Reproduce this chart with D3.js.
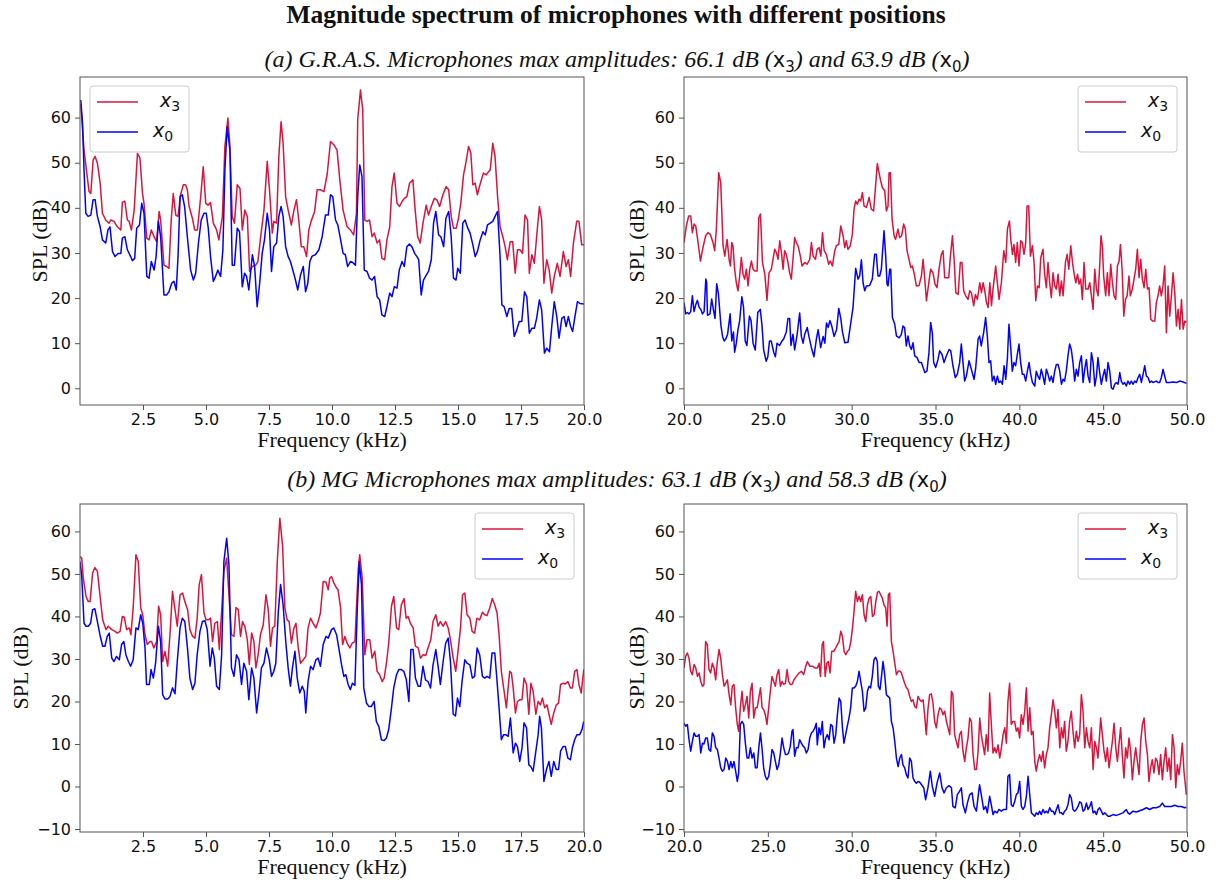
<!DOCTYPE html>
<html>
<head>
<meta charset="utf-8">
<script src="https://cdn.jsdelivr.net/npm/d3@7"></script>
<style>
  body { margin: 0; background: #fff; }
  svg text { fill: #111; }
</style>
</head>
<body>
<svg id="chart" width="1219" height="885"></svg>
<script>
// ---- data: [kHz, dB] ----
const grasLowX3 = [[0.03,63.0],[0.16,52.8],[0.27,47.7],[0.36,43.6],[0.43,43.2],[0.52,50.6],[0.60,51.4],[0.69,49.9],[0.80,45.5],[0.89,38.8],[1.02,37.3],[1.15,36.6],[1.22,37.3],[1.35,37.0],[1.48,35.8],[1.62,35.1],[1.68,41.2],[1.78,41.5],[1.88,37.3],[1.95,37.0],[2.04,35.1],[2.15,39.5],[2.28,52.1],[2.38,51.0],[2.48,43.2],[2.54,41.0],[2.65,33.3],[2.74,32.9],[2.83,35.1],[2.94,33.6],[3.04,32.5],[3.14,39.2],[3.20,37.3],[3.33,27.3],[3.44,27.0],[3.53,26.6],[3.62,37.3],[3.70,43.2],[3.80,38.4],[3.89,38.1],[3.99,42.9],[4.10,45.1],[4.19,45.1],[4.26,44.0],[4.33,40.3],[4.46,37.7],[4.55,35.1],[4.66,35.1],[4.79,42.5],[4.89,49.1],[4.99,41.0],[5.08,40.6],[5.18,41.2],[5.29,36.6],[5.42,35.1],[5.51,32.9],[5.65,38.1],[5.75,53.6],[5.87,59.9],[5.95,53.6],[6.04,38.1],[6.13,36.6],[6.24,45.1],[6.35,44.3],[6.44,35.1],[6.54,39.5],[6.64,38.1],[6.73,25.9],[6.84,27.0],[6.97,27.3],[7.06,28.1],[7.17,33.6],[7.30,39.5],[7.43,50.3],[7.52,44.0],[7.63,34.4],[7.69,37.0],[7.80,36.6],[7.89,51.4],[7.98,59.1],[8.06,54.3],[8.16,42.5],[8.26,39.5],[8.39,36.2],[8.49,39.5],[8.59,41.8],[8.68,37.3],[8.78,31.4],[8.88,31.4],[8.99,29.2],[9.08,35.1],[9.17,37.0],[9.31,39.2],[9.41,44.0],[9.54,44.0],[9.68,43.6],[9.81,47.5],[9.94,54.7],[10.07,54.0],[10.20,52.8],[10.31,46.2],[10.44,39.5],[10.60,35.8],[10.73,35.1],[10.86,34.0],[10.97,38.8],[11.02,59.5],[11.13,66.1],[11.22,61.7],[11.30,37.3],[11.39,37.0],[11.49,37.3],[11.59,33.6],[11.68,34.4],[11.79,32.2],[11.89,32.9],[11.98,28.8],[12.09,28.5],[12.18,32.9],[12.29,35.8],[12.38,44.7],[12.47,47.7],[12.58,41.0],[12.68,40.3],[12.78,41.4],[12.87,42.1],[12.97,42.5],[13.08,45.5],[13.21,46.2],[13.30,39.5],[13.40,33.6],[13.50,32.2],[13.61,36.6],[13.74,40.6],[13.83,38.4],[13.94,40.3],[14.06,42.1],[14.16,41.8],[14.27,40.3],[14.40,42.9],[14.53,44.7],[14.63,44.0],[14.73,38.1],[14.82,35.5],[14.93,35.5],[15.02,37.7],[15.11,41.0],[15.22,47.3],[15.31,49.9],[15.42,53.6],[15.51,52.1],[15.59,45.1],[15.68,45.5],[15.77,42.9],[15.85,44.7],[15.95,46.6],[16.01,47.7],[16.12,47.3],[16.21,48.0],[16.28,48.4],[16.38,54.3],[16.47,51.4],[16.57,42.5],[16.67,35.8],[16.78,33.6],[16.87,31.4],[16.96,28.5],[17.07,32.5],[17.17,32.5],[17.27,25.5],[17.36,30.7],[17.46,30.7],[17.56,29.9],[17.66,38.4],[17.76,37.3],[17.83,25.5],[17.93,29.6],[18.03,27.7],[18.12,33.6],[18.23,40.3],[18.32,37.3],[18.41,23.3],[18.52,28.5],[18.62,26.2],[18.72,21.1],[18.82,24.8],[18.94,27.7],[19.05,24.8],[19.18,30.3],[19.29,27.0],[19.38,28.5],[19.47,24.8],[19.58,32.2],[19.71,37.0],[19.80,37.0],[19.91,31.8],[20.0,31.8]];

const grasLowX0 = [[0.03,63.9],[0.10,58.8],[0.16,48.4],[0.23,38.8],[0.32,38.1],[0.43,38.4],[0.52,41.8],[0.60,41.8],[0.69,38.1],[0.80,35.8],[0.89,32.9],[1.02,32.2],[1.11,35.1],[1.19,35.8],[1.29,30.3],[1.39,29.2],[1.51,29.9],[1.62,29.9],[1.68,33.3],[1.78,33.6],[1.88,30.7],[2.01,29.2],[2.08,28.3],[2.17,28.8],[2.25,35.5],[2.36,36.2],[2.45,41.0],[2.54,38.8],[2.65,24.8],[2.74,24.4],[2.83,28.1],[2.94,26.2],[3.02,29.2],[3.11,37.0],[3.20,33.6],[3.33,20.7],[3.44,20.7],[3.53,21.4],[3.64,23.3],[3.73,23.7],[3.82,21.8],[3.89,29.2],[3.97,42.5],[4.06,42.9],[4.15,40.3],[4.26,33.6],[4.39,26.2],[4.50,24.0],[4.59,25.5],[4.70,32.2],[4.81,37.3],[4.92,38.8],[5.01,38.8],[5.09,35.5],[5.18,29.2],[5.29,23.7],[5.38,24.8],[5.47,26.2],[5.58,24.8],[5.67,30.7],[5.75,48.4],[5.84,58.0],[5.95,52.8],[6.04,27.3],[6.13,27.3],[6.24,35.5],[6.33,34.7],[6.44,22.5],[6.53,25.5],[6.61,24.8],[6.70,21.8],[6.84,29.6],[6.93,27.0],[7.03,18.1],[7.13,23.3],[7.23,29.9],[7.32,32.9],[7.43,38.8],[7.52,35.1],[7.60,25.9],[7.69,31.4],[7.80,32.2],[7.89,38.1],[7.98,40.3],[8.06,38.1],[8.16,31.4],[8.26,29.2],[8.35,28.1],[8.46,25.9],[8.55,24.0],[8.64,21.8],[8.75,25.1],[8.86,27.0],[8.95,21.4],[9.04,23.3],[9.12,28.1],[9.21,29.3],[9.34,29.6],[9.48,30.7],[9.61,33.6],[9.74,38.4],[9.85,38.4],[9.94,42.9],[10.03,42.5],[10.14,37.3],[10.23,36.2],[10.33,33.3],[10.44,29.9],[10.53,29.6],[10.62,27.0],[10.73,28.1],[10.82,27.9],[10.93,27.3],[11.02,42.5],[11.10,49.5],[11.19,46.9],[11.28,26.2],[11.39,25.9],[11.49,24.4],[11.59,24.0],[11.69,24.8],[11.79,20.3],[11.89,19.6],[11.98,16.3],[12.09,15.9],[12.18,18.1],[12.29,21.1],[12.38,20.3],[12.47,22.5],[12.58,22.2],[12.67,26.2],[12.78,28.1],[12.87,27.0],[12.97,31.4],[13.07,32.0],[13.17,31.4],[13.28,29.9],[13.37,29.2],[13.44,28.5],[13.54,20.7],[13.63,24.0],[13.74,25.1],[13.83,25.9],[13.94,28.5],[14.03,36.6],[14.12,39.2],[14.23,34.0],[14.32,33.6],[14.43,31.4],[14.52,37.7],[14.63,39.2],[14.73,33.6],[14.82,24.4],[14.92,24.0],[14.99,26.6],[15.09,25.5],[15.19,36.6],[15.28,37.3],[15.39,35.5],[15.48,34.4],[15.59,31.8],[15.68,29.2],[15.77,30.3],[15.88,32.9],[15.99,34.7],[16.08,34.0],[16.17,36.2],[16.28,36.6],[16.38,37.0],[16.47,38.1],[16.57,39.2],[16.67,29.2],[16.74,18.5],[16.83,18.1],[16.94,15.9],[17.03,17.7],[17.13,17.7],[17.23,11.5],[17.33,12.9],[17.43,14.8],[17.53,14.8],[17.64,21.4],[17.73,20.3],[17.83,12.2],[17.93,13.3],[18.03,13.3],[18.12,15.5],[18.23,19.6],[18.32,17.4],[18.43,7.8],[18.52,8.9],[18.63,8.1],[18.72,13.7],[18.82,19.2],[18.92,15.9],[19.01,11.1],[19.12,15.5],[19.21,15.9],[19.29,13.7],[19.38,15.9],[19.47,13.7],[19.55,12.6],[19.64,15.9],[19.74,19.2],[19.84,18.8],[20.0,18.7]];

const grasHighX3 = [[20.0,32.3],[20.14,36.0],[20.28,38.2],[20.40,38.2],[20.50,34.5],[20.60,36.4],[20.70,36.0],[20.84,32.3],[20.98,28.2],[21.13,31.2],[21.29,33.8],[21.43,34.5],[21.57,34.1],[21.73,32.3],[21.83,30.5],[21.93,35.3],[22.07,47.8],[22.19,45.6],[22.33,31.6],[22.43,29.3],[22.57,33.0],[22.69,28.6],[22.77,27.1],[22.85,32.3],[22.92,31.6],[23.02,26.4],[23.12,23.4],[23.22,21.6],[23.32,24.9],[23.42,29.0],[23.52,25.3],[23.62,24.2],[23.72,26.4],[23.82,22.7],[23.92,26.4],[24.02,28.2],[24.12,26.4],[24.22,26.0],[24.36,26.0],[24.46,37.8],[24.56,38.6],[24.68,27.9],[24.82,25.3],[24.95,19.5],[25.07,25.6],[25.21,26.4],[25.31,28.6],[25.41,30.8],[25.51,30.1],[25.61,28.6],[25.71,32.7],[25.81,30.1],[25.91,26.4],[26.00,30.5],[26.10,29.7],[26.20,27.9],[26.30,25.6],[26.40,24.2],[26.50,28.6],[26.60,33.4],[26.70,32.3],[26.80,31.6],[26.94,29.3],[27.04,27.1],[27.20,27.9],[27.34,27.5],[27.50,28.6],[27.60,32.3],[27.70,29.3],[27.84,28.6],[27.94,30.8],[28.06,31.2],[28.16,29.3],[28.26,34.5],[28.36,30.5],[28.49,29.7],[28.63,27.5],[28.73,28.2],[28.85,27.1],[28.99,30.5],[29.09,31.6],[29.23,31.9],[29.35,36.0],[29.49,33.8],[29.59,31.2],[29.68,32.7],[29.78,30.8],[29.92,31.6],[30.04,34.1],[30.14,39.7],[30.24,41.5],[30.34,40.8],[30.44,41.9],[30.54,41.5],[30.64,43.4],[30.74,40.4],[30.88,40.1],[31.04,42.3],[31.17,39.7],[31.31,39.3],[31.41,44.1],[31.53,49.8],[31.63,47.8],[31.73,46.0],[31.83,44.5],[31.97,43.8],[32.07,39.3],[32.17,40.4],[32.23,47.8],[32.31,47.8],[32.41,37.5],[32.53,33.8],[32.62,33.0],[32.76,35.3],[32.86,33.4],[32.98,33.8],[33.10,36.4],[33.20,35.3],[33.30,30.5],[33.42,28.6],[33.52,26.8],[33.62,27.1],[33.72,25.6],[33.86,22.7],[34.02,22.8],[34.16,24.9],[34.26,28.6],[34.36,24.2],[34.46,19.4],[34.60,23.4],[34.71,26.4],[34.85,25.6],[34.97,23.1],[35.09,22.3],[35.21,26.4],[35.35,29.7],[35.45,30.5],[35.55,24.5],[35.65,24.5],[35.79,24.5],[35.89,29.3],[36.01,33.8],[36.11,28.6],[36.21,21.2],[36.35,20.8],[36.48,27.9],[36.58,27.9],[36.68,21.6],[36.80,20.5],[36.94,19.7],[37.04,21.6],[37.14,21.2],[37.28,18.3],[37.38,20.8],[37.50,19.7],[37.64,23.4],[37.74,21.2],[37.84,23.4],[37.94,21.6],[38.04,19.0],[38.14,17.9],[38.24,23.4],[38.34,18.3],[38.43,22.0],[38.59,27.1],[38.69,23.4],[38.79,19.7],[38.93,23.4],[39.07,30.5],[39.19,27.9],[39.29,35.3],[39.41,37.1],[39.49,33.0],[39.59,29.7],[39.68,31.9],[39.78,27.9],[39.88,32.3],[39.98,27.1],[40.08,32.7],[40.18,32.3],[40.28,29.7],[40.38,32.3],[40.46,40.4],[40.56,40.4],[40.66,29.3],[40.78,31.6],[40.88,27.9],[40.98,19.4],[41.08,22.7],[41.18,22.3],[41.28,29.0],[41.41,30.8],[41.51,25.3],[41.61,22.3],[41.71,27.9],[41.81,23.4],[41.91,20.1],[42.01,25.6],[42.11,22.7],[42.21,22.0],[42.31,25.3],[42.41,20.5],[42.51,23.8],[42.61,20.5],[42.75,27.9],[42.85,29.7],[42.95,26.4],[43.07,31.6],[43.17,27.9],[43.27,25.3],[43.37,23.4],[43.47,25.3],[43.56,23.1],[43.66,24.2],[43.76,19.7],[43.86,27.9],[43.96,22.0],[44.10,22.0],[44.20,23.4],[44.30,20.5],[44.40,17.5],[44.50,26.4],[44.60,22.0],[44.70,20.5],[44.80,27.9],[44.87,33.8],[44.95,31.6],[45.03,24.9],[45.15,20.5],[45.25,25.6],[45.35,20.5],[45.45,27.5],[45.55,23.4],[45.65,20.5],[45.75,19.7],[45.85,27.1],[45.95,28.2],[46.03,31.9],[46.13,26.4],[46.23,16.0],[46.33,19.7],[46.43,20.5],[46.54,24.9],[46.62,20.5],[46.74,22.0],[46.84,24.2],[46.94,26.4],[47.04,30.8],[47.14,24.5],[47.24,28.6],[47.34,24.2],[47.44,22.3],[47.54,26.4],[47.64,22.0],[47.74,22.3],[47.84,15.3],[47.94,14.9],[48.08,14.9],[48.17,19.0],[48.27,20.5],[48.37,22.7],[48.47,20.5],[48.57,22.7],[48.67,27.1],[48.77,12.3],[48.87,22.7],[48.97,16.0],[49.07,20.5],[49.17,25.6],[49.27,21.2],[49.37,13.8],[49.47,17.5],[49.57,13.1],[49.67,19.7],[49.77,13.1],[49.87,14.9],[49.97,14.6]];

const grasHighX0 = [[20.0,19.0],[20.1,16.5],[20.2,16.8],[20.3,16.5],[20.4,17.0],[20.5,20.5],[20.6,17.0],[20.7,18.5],[20.8,19.5],[20.9,18.0],[21.0,17.5],[21.1,16.5],[21.2,17.0],[21.3,24.2],[21.35,23.5],[21.4,16.2],[21.55,16.5],[21.65,19.8],[21.75,17.5],[21.85,15.5],[21.95,23.2],[22.05,21.0],[22.2,14.0],[22.3,11.5],[22.4,10.5],[22.5,11.0],[22.6,12.0],[22.75,16.5],[22.85,10.5],[22.95,12.5],[23.02,8.0],[23.12,10.0],[23.22,13.0],[23.32,15.0],[23.45,20.3],[23.55,18.0],[23.65,10.5],[23.75,9.5],[23.9,16.0],[24.0,15.0],[24.12,10.0],[24.25,8.5],[24.4,16.8],[24.55,17.5],[24.65,14.0],[24.75,8.5],[24.9,6.0],[25.0,7.0],[25.1,10.5],[25.2,10.5],[25.35,8.0],[25.45,7.0],[25.55,10.0],[25.7,9.5],[25.85,10.5],[25.95,11.0],[26.1,12.5],[26.2,15.5],[26.3,15.5],[26.38,9.5],[26.5,12.0],[26.6,8.5],[26.75,12.0],[26.9,16.7],[27.0,11.5],[27.1,10.0],[27.2,12.0],[27.35,13.5],[27.45,11.5],[27.6,9.0],[27.75,7.0],[27.9,11.0],[28.0,13.0],[28.15,9.0],[28.3,11.5],[28.4,10.0],[28.5,14.5],[28.6,13.5],[28.7,15.0],[28.8,14.0],[28.95,11.5],[29.1,13.0],[29.23,17.7],[29.35,15.5],[29.45,12.5],[29.59,10.1],[29.78,10.2],[29.92,13.8],[30.08,17.9],[30.24,26.6],[30.38,24.2],[30.48,24.9],[30.58,28.5],[30.68,23.4],[30.78,21.6],[30.88,22.7],[31.07,22.8],[31.23,24.2],[31.37,29.7],[31.47,29.7],[31.57,24.9],[31.67,24.9],[31.77,26.4],[31.93,34.9],[32.03,29.3],[32.11,23.1],[32.17,22.7],[32.27,26.4],[32.33,26.4],[32.43,15.7],[32.57,14.2],[32.67,11.6],[32.83,11.2],[32.96,11.9],[33.06,13.8],[33.16,13.4],[33.26,9.4],[33.36,11.6],[33.46,9.4],[33.56,8.6],[33.66,10.1],[33.76,7.2],[33.90,6.8],[34.02,5.7],[34.16,5.7],[34.36,3.5],[34.49,3.8],[34.61,7.9],[34.71,14.6],[34.81,12.3],[34.89,5.7],[35.01,4.6],[35.15,6.4],[35.25,8.3],[35.39,7.5],[35.51,5.7],[35.65,7.2],[35.81,8.6],[35.91,8.3],[36.04,5.0],[36.18,2.4],[36.30,3.1],[36.44,5.7],[36.54,9.8],[36.64,5.7],[36.74,1.6],[36.84,2.7],[37.00,6.1],[37.14,4.2],[37.30,2.0],[37.40,4.6],[37.54,10.9],[37.63,11.6],[37.73,9.4],[37.87,12.3],[37.99,15.7],[38.09,11.6],[38.19,5.7],[38.29,6.1],[38.39,1.6],[38.49,2.7],[38.59,0.9],[38.69,2.7],[38.79,1.3],[38.89,1.6],[38.99,0.9],[39.09,5.0],[39.19,2.0],[39.29,6.8],[39.38,14.2],[39.48,9.4],[39.58,3.8],[39.68,5.7],[39.78,5.0],[39.88,7.5],[39.98,9.8],[40.08,5.7],[40.18,3.1],[40.28,3.1],[40.38,1.6],[40.48,3.8],[40.58,5.7],[40.68,3.1],[40.78,1.3],[40.92,0.5],[41.01,3.8],[41.11,2.7],[41.21,2.0],[41.31,4.2],[41.41,2.7],[41.51,0.9],[41.61,4.2],[41.71,3.1],[41.81,1.6],[41.91,2.7],[42.01,1.3],[42.11,3.8],[42.21,5.3],[42.31,5.3],[42.41,3.8],[42.51,0.9],[42.61,2.0],[42.70,1.6],[42.80,3.8],[42.90,7.2],[43.00,9.8],[43.10,8.6],[43.20,5.7],[43.30,1.6],[43.40,4.2],[43.50,2.7],[43.60,5.7],[43.70,7.2],[43.80,1.3],[43.90,4.2],[44.00,6.4],[44.10,2.7],[44.20,1.3],[44.30,7.9],[44.40,5.7],[44.50,0.5],[44.60,2.7],[44.69,6.8],[44.79,3.5],[44.89,0.9],[44.99,2.7],[45.09,4.2],[45.19,1.6],[45.29,5.7],[45.39,3.8],[45.49,0.1],[45.59,-0.2],[45.69,0.9],[45.79,1.3],[45.89,0.9],[45.99,3.5],[46.08,1.6],[46.18,0.9],[46.28,1.3],[46.38,0.5],[46.48,1.6],[46.58,0.9],[46.68,1.6],[46.78,0.9],[46.88,1.6],[46.98,1.3],[47.08,2.4],[47.18,3.1],[47.28,1.3],[47.38,3.1],[47.48,5.0],[47.58,2.7],[47.68,2.4],[47.78,1.3],[47.87,1.6],[47.97,1.3],[48.17,1.6],[48.27,1.3],[48.37,1.3],[48.47,2.4],[48.57,4.2],[48.67,2.7],[48.77,1.3],[48.87,1.3],[48.97,1.3],[49.17,1.4],[49.37,1.3],[49.57,1.6],[49.77,1.4],[49.97,1.1]];

const mgLowX3 = [[0.00,54.1],[0.07,53.7],[0.13,49.0],[0.24,44.7],[0.33,43.5],[0.40,43.5],[0.50,50.2],[0.59,51.5],[0.69,50.6],[0.79,45.1],[0.90,39.2],[1.03,36.9],[1.12,37.7],[1.26,36.9],[1.39,36.5],[1.48,36.1],[1.59,36.5],[1.68,40.0],[1.76,39.8],[1.85,36.9],[1.96,37.3],[2.02,35.7],[2.11,42.0],[2.22,54.5],[2.31,53.0],[2.41,42.0],[2.49,40.4],[2.58,35.7],[2.67,33.4],[2.78,34.1],[2.84,34.1],[2.93,32.6],[3.04,34.1],[3.12,42.4],[3.20,40.4],[3.28,29.4],[3.37,31.8],[3.48,28.3],[3.57,35.7],[3.67,45.9],[3.77,41.6],[3.86,37.7],[3.97,45.1],[4.07,45.5],[4.16,43.5],[4.27,41.6],[4.36,36.9],[4.47,35.3],[4.56,34.9],[4.65,39.6],[4.73,47.5],[4.82,49.8],[4.92,40.8],[5.00,39.2],[5.09,39.2],[5.18,39.6],[5.26,34.1],[5.35,38.4],[5.45,38.8],[5.53,32.2],[5.62,41.2],[5.71,50.6],[5.82,53.7],[5.91,45.1],[6.01,35.7],[6.11,35.3],[6.19,42.1],[6.28,41.6],[6.37,35.3],[6.45,38.8],[6.54,37.7],[6.64,34.5],[6.72,28.7],[6.81,36.1],[6.90,34.1],[6.98,27.9],[7.07,31.0],[7.16,35.7],[7.27,38.0],[7.38,45.1],[7.47,41.6],[7.56,33.0],[7.64,37.3],[7.73,37.7],[7.83,53.0],[7.93,63.1],[8.04,56.5],[8.13,42.0],[8.22,39.2],[8.30,38.8],[8.39,33.7],[8.49,37.3],[8.57,38.4],[8.66,32.6],[8.75,29.0],[8.86,29.8],[8.96,30.6],[9.05,37.3],[9.15,39.6],[9.25,38.4],[9.36,37.3],[9.45,38.8],[9.54,40.8],[9.65,48.2],[9.76,48.1],[9.85,46.3],[9.91,49.0],[9.98,49.4],[10.07,47.9],[10.18,46.7],[10.24,46.3],[10.34,42.0],[10.42,33.4],[10.51,35.3],[10.60,33.7],[10.71,32.6],[10.80,33.7],[10.91,34.1],[10.97,42.0],[11.04,51.0],[11.10,54.5],[11.20,49.0],[11.30,31.0],[11.39,34.5],[11.50,34.5],[11.59,30.2],[11.70,31.8],[11.79,27.1],[11.89,26.3],[11.99,24.7],[12.07,25.5],[12.16,29.0],[12.25,33.7],[12.36,42.4],[12.45,44.7],[12.56,37.3],[12.65,36.9],[12.75,42.7],[12.86,44.2],[12.94,39.6],[13.02,40.0],[13.11,38.4],[13.22,37.3],[13.31,33.0],[13.42,32.6],[13.51,30.2],[13.62,31.0],[13.72,30.8],[13.81,32.6],[13.92,34.5],[14.01,38.8],[14.12,40.4],[14.21,37.7],[14.30,38.8],[14.41,37.7],[14.51,38.8],[14.61,37.3],[14.70,34.5],[14.81,30.2],[14.91,27.1],[15.00,31.8],[15.10,37.3],[15.18,45.1],[15.27,45.5],[15.36,40.4],[15.47,39.6],[15.56,36.5],[15.66,36.1],[15.75,39.6],[15.86,39.2],[15.97,41.0],[16.06,40.4],[16.15,40.2],[16.26,42.0],[16.36,44.2],[16.46,42.7],[16.55,40.8],[16.63,35.7],[16.72,27.1],[16.83,22.4],[16.92,18.5],[16.99,23.2],[17.05,27.1],[17.12,26.7],[17.19,23.2],[17.28,17.3],[17.36,20.0],[17.45,20.4],[17.54,20.4],[17.62,25.5],[17.72,24.0],[17.81,17.0],[17.89,24.3],[17.98,22.4],[18.09,17.0],[18.18,20.0],[18.27,19.2],[18.35,20.8],[18.44,18.5],[18.53,19.2],[18.61,17.0],[18.70,14.6],[18.80,17.3],[18.90,19.2],[18.99,19.6],[19.07,24.0],[19.17,24.3],[19.26,24.1],[19.36,24.7],[19.46,23.2],[19.54,23.2],[19.63,27.1],[19.72,27.5],[19.80,24.0],[19.89,22.0],[19.99,27.5]];

const mgLowX0 = [[0.00,52.9],[0.07,49.4],[0.16,38.4],[0.24,37.7],[0.33,37.7],[0.42,38.4],[0.50,41.6],[0.59,41.8],[0.69,38.8],[0.79,35.7],[0.90,33.0],[0.99,33.0],[1.08,35.3],[1.16,36.1],[1.26,30.2],[1.35,29.4],[1.45,30.6],[1.56,29.8],[1.65,33.4],[1.74,34.1],[1.82,31.0],[1.92,29.4],[2.01,28.3],[2.11,29.8],[2.22,37.3],[2.31,36.9],[2.41,40.4],[2.49,38.4],[2.58,32.6],[2.64,24.0],[2.75,24.0],[2.82,27.5],[2.91,25.5],[3.00,29.0],[3.11,37.7],[3.20,34.1],[3.28,21.6],[3.37,20.6],[3.48,20.6],[3.57,21.2],[3.67,23.2],[3.77,21.8],[3.86,29.4],[3.97,37.3],[4.06,39.6],[4.16,38.8],[4.27,32.2],[4.36,25.5],[4.47,22.8],[4.56,24.3],[4.65,31.0],[4.76,36.5],[4.86,38.8],[4.96,39.0],[5.05,36.9],[5.16,28.3],[5.25,32.6],[5.33,30.2],[5.42,23.6],[5.53,22.8],[5.62,31.0],[5.71,52.9],[5.82,58.4],[5.91,52.2],[6.01,27.9],[6.11,25.9],[6.21,31.0],[6.31,29.8],[6.41,24.0],[6.50,29.0],[6.61,27.1],[6.70,20.4],[6.81,27.9],[6.90,25.5],[7.01,17.3],[7.11,22.4],[7.20,27.9],[7.30,29.0],[7.40,32.6],[7.51,29.8],[7.60,25.9],[7.69,27.1],[7.77,29.0],[7.87,41.2],[7.96,47.5],[8.06,42.7],[8.17,33.7],[8.26,27.9],[8.35,23.6],[8.43,27.9],[8.53,31.8],[8.62,25.5],[8.72,22.0],[8.82,23.6],[8.90,22.4],[8.96,17.3],[9.05,24.7],[9.15,28.3],[9.25,27.5],[9.36,29.8],[9.45,30.2],[9.54,28.3],[9.65,33.4],[9.76,35.3],[9.85,34.9],[9.98,36.9],[10.07,37.3],[10.18,35.7],[10.27,32.6],[10.38,28.6],[10.47,25.9],[10.55,26.3],[10.64,24.0],[10.73,22.8],[10.81,24.3],[10.91,23.8],[11.00,41.2],[11.08,52.9],[11.17,47.5],[11.26,23.2],[11.37,19.6],[11.47,18.8],[11.56,18.8],[11.67,20.0],[11.76,15.3],[11.86,14.1],[11.96,11.0],[12.07,10.8],[12.16,11.4],[12.25,13.4],[12.36,18.5],[12.45,23.2],[12.56,26.3],[12.65,27.5],[12.75,27.5],[12.85,27.1],[12.95,25.1],[13.05,20.0],[13.13,32.2],[13.22,32.2],[13.31,25.5],[13.42,23.6],[13.51,23.6],[13.61,28.3],[13.71,25.1],[13.81,24.7],[13.91,23.2],[14.01,28.6],[14.12,32.2],[14.21,28.3],[14.30,24.0],[14.41,29.4],[14.51,33.7],[14.61,34.9],[14.70,29.4],[14.81,17.0],[14.90,16.6],[14.98,20.8],[15.07,18.8],[15.16,24.7],[15.27,29.8],[15.36,29.0],[15.47,28.6],[15.57,25.5],[15.66,25.9],[15.76,32.6],[15.86,31.0],[15.97,25.9],[16.06,25.5],[16.15,25.9],[16.26,25.5],[16.35,31.4],[16.46,31.4],[16.55,24.7],[16.63,18.5],[16.72,11.0],[16.81,12.2],[16.89,12.2],[16.99,11.8],[17.08,16.1],[17.19,7.9],[17.28,10.2],[17.36,9.4],[17.45,5.9],[17.54,9.1],[17.62,15.0],[17.72,13.8],[17.81,5.1],[17.89,4.7],[17.98,3.6],[18.09,8.3],[18.18,12.2],[18.24,16.5],[18.31,13.8],[18.41,1.2],[18.51,4.0],[18.61,5.9],[18.70,2.4],[18.80,5.9],[18.90,4.0],[18.99,4.0],[19.07,8.3],[19.17,9.4],[19.26,9.4],[19.36,6.7],[19.46,6.3],[19.54,9.1],[19.63,11.0],[19.72,12.2],[19.83,12.2],[19.92,13.4],[19.99,15.3]];

const mgHighX3 = [[20.00,27.9],[20.10,30.6],[20.20,31.4],[20.30,30.2],[20.40,27.1],[20.50,26.3],[20.60,28.7],[20.70,27.9],[20.80,25.9],[20.90,26.7],[21.00,24.7],[21.10,23.6],[21.19,24.0],[21.29,34.1],[21.39,33.4],[21.49,27.5],[21.59,26.7],[21.69,29.0],[21.79,27.9],[21.89,25.1],[21.99,29.4],[22.09,32.2],[22.19,30.2],[22.29,26.3],[22.39,23.6],[22.49,24.3],[22.59,25.1],[22.69,21.6],[22.79,19.2],[22.88,23.6],[22.98,24.0],[23.08,18.5],[23.18,14.6],[23.26,13.0],[23.36,18.5],[23.46,22.4],[23.56,17.7],[23.66,19.2],[23.76,21.2],[23.86,16.1],[23.96,22.4],[24.06,24.3],[24.16,16.1],[24.26,18.5],[24.36,18.5],[24.46,20.8],[24.56,23.2],[24.66,18.5],[24.75,18.1],[24.85,16.9],[24.95,14.6],[25.05,18.5],[25.15,22.4],[25.25,25.9],[25.35,24.7],[25.45,23.6],[25.55,26.3],[25.65,27.5],[25.75,23.6],[25.85,24.7],[25.95,24.0],[26.05,24.3],[26.15,27.5],[26.24,24.7],[26.34,24.0],[26.44,24.0],[26.56,25.1],[26.70,25.9],[26.86,26.7],[27.00,27.1],[27.14,26.3],[27.26,28.3],[27.36,29.4],[27.50,28.3],[27.66,28.3],[27.80,27.9],[27.96,27.9],[28.06,29.0],[28.14,25.9],[28.24,33.4],[28.32,34.1],[28.42,25.9],[28.52,29.0],[28.61,29.4],[28.71,26.7],[28.81,31.8],[28.93,31.8],[29.05,32.6],[29.15,33.4],[29.25,34.1],[29.35,36.5],[29.45,35.3],[29.55,31.8],[29.65,31.0],[29.75,31.8],[29.85,32.2],[29.95,34.1],[30.05,37.3],[30.15,41.6],[30.24,45.9],[30.34,43.5],[30.44,44.7],[30.54,43.5],[30.64,45.1],[30.74,40.4],[30.84,38.8],[30.94,42.7],[31.04,44.3],[31.14,44.7],[31.24,40.0],[31.34,40.4],[31.44,43.5],[31.54,45.7],[31.63,45.9],[31.73,45.1],[31.83,44.3],[31.93,42.7],[32.03,42.0],[32.11,37.7],[32.19,45.1],[32.27,45.5],[32.37,34.1],[32.47,31.8],[32.57,29.0],[32.67,26.3],[32.77,27.1],[32.87,27.2],[32.97,26.7],[33.06,25.5],[33.16,24.3],[33.26,23.3],[33.36,22.8],[33.46,21.2],[33.56,20.0],[33.66,20.4],[33.76,18.8],[33.86,18.5],[33.96,21.2],[34.06,20.4],[34.16,20.0],[34.26,20.4],[34.35,16.9],[34.45,12.2],[34.55,18.1],[34.65,21.6],[34.75,21.8],[34.85,19.6],[34.95,15.3],[35.05,13.8],[35.15,16.9],[35.25,18.5],[35.35,18.1],[35.45,16.9],[35.55,17.7],[35.65,15.3],[35.75,13.8],[35.85,12.2],[35.95,22.4],[36.04,21.6],[36.14,12.2],[36.24,10.6],[36.34,9.1],[36.44,12.2],[36.54,13.0],[36.64,8.3],[36.74,5.9],[36.84,9.1],[36.94,11.4],[37.04,16.1],[37.14,15.3],[37.24,7.5],[37.34,4.0],[37.44,4.0],[37.54,8.3],[37.64,16.1],[37.73,12.2],[37.83,9.8],[37.93,7.5],[38.03,12.2],[38.13,8.3],[38.23,22.0],[38.33,14.6],[38.43,7.9],[38.53,9.1],[38.63,7.9],[38.73,9.8],[38.83,6.7],[38.93,9.1],[39.03,12.2],[39.13,13.8],[39.23,10.2],[39.32,20.0],[39.42,24.3],[39.52,14.6],[39.62,15.3],[39.72,15.3],[39.82,13.0],[39.92,13.8],[40.02,11.4],[40.12,16.9],[40.22,14.6],[40.32,17.7],[40.42,23.2],[40.52,13.0],[40.62,18.5],[40.72,12.2],[40.82,13.0],[40.92,5.9],[41.01,3.6],[41.11,5.9],[41.21,7.5],[41.31,5.9],[41.41,8.3],[41.51,4.4],[41.61,7.5],[41.71,9.1],[41.81,13.8],[41.91,16.9],[42.01,20.4],[42.11,17.7],[42.21,13.8],[42.31,18.1],[42.41,9.1],[42.51,13.8],[42.61,11.4],[42.70,15.3],[42.80,8.3],[42.90,10.6],[43.00,15.3],[43.10,17.7],[43.20,13.0],[43.30,9.1],[43.40,13.0],[43.50,10.6],[43.60,12.2],[43.70,21.6],[43.80,17.7],[43.90,9.1],[44.00,13.8],[44.10,10.6],[44.20,9.1],[44.30,13.8],[44.40,4.0],[44.50,10.6],[44.60,9.1],[44.69,6.7],[44.79,12.2],[44.85,16.1],[44.95,12.2],[45.05,8.3],[45.15,5.9],[45.25,9.1],[45.35,4.4],[45.45,7.5],[45.55,10.6],[45.65,14.9],[45.75,9.1],[45.85,5.9],[45.95,10.2],[46.04,13.8],[46.14,7.5],[46.24,2.0],[46.34,9.1],[46.44,6.7],[46.54,11.4],[46.64,8.3],[46.74,1.6],[46.84,5.9],[46.94,9.1],[47.04,5.9],[47.14,2.8],[47.24,10.6],[47.34,14.6],[47.44,16.1],[47.54,10.6],[47.64,7.5],[47.73,1.2],[47.83,4.4],[47.93,6.3],[48.03,3.2],[48.13,6.7],[48.23,5.9],[48.33,2.8],[48.43,7.5],[48.53,1.6],[48.63,5.9],[48.73,9.1],[48.83,3.6],[48.93,6.7],[49.03,1.6],[49.13,12.2],[49.23,9.1],[49.33,-0.3],[49.42,5.1],[49.52,2.8],[49.62,5.9],[49.72,10.2],[49.82,3.6],[49.96,-1.9]];

const mgHighX0 = [[20.00,14.9],[20.10,14.2],[20.20,14.6],[20.30,11.0],[20.40,8.3],[20.50,10.6],[20.60,12.6],[20.70,11.8],[20.80,11.8],[20.90,12.2],[21.00,7.9],[21.10,10.2],[21.19,10.0],[21.29,11.4],[21.39,11.4],[21.49,8.7],[21.59,8.3],[21.69,12.6],[21.79,11.8],[21.89,9.1],[21.99,8.7],[22.09,6.7],[22.19,4.4],[22.29,3.6],[22.39,4.0],[22.49,6.7],[22.59,5.9],[22.69,4.0],[22.79,5.9],[22.88,4.4],[22.98,5.9],[23.08,3.6],[23.18,1.2],[23.26,3.2],[23.36,14.6],[23.46,15.3],[23.56,14.6],[23.66,10.2],[23.76,6.7],[23.86,6.7],[23.96,9.1],[24.06,6.7],[24.16,7.9],[24.26,4.4],[24.36,4.4],[24.46,9.1],[24.56,12.6],[24.66,8.7],[24.75,4.4],[24.85,2.4],[24.95,1.6],[25.05,2.4],[25.15,5.1],[25.25,8.7],[25.35,7.9],[25.45,5.9],[25.55,4.0],[25.65,5.1],[25.75,7.9],[25.85,11.4],[25.95,9.1],[26.05,7.5],[26.15,7.5],[26.24,7.9],[26.34,9.5],[26.44,13.0],[26.50,13.4],[26.60,7.1],[26.70,9.1],[26.80,9.1],[26.90,11.0],[27.00,10.2],[27.10,9.5],[27.20,9.1],[27.30,7.9],[27.40,8.7],[27.50,11.4],[27.60,12.6],[27.70,13.0],[27.80,13.8],[27.89,14.9],[27.95,9.8],[28.05,13.8],[28.15,12.2],[28.25,15.3],[28.35,9.1],[28.45,11.4],[28.55,12.2],[28.65,11.0],[28.75,14.6],[28.85,14.2],[28.95,10.2],[29.05,12.2],[29.15,16.9],[29.25,20.8],[29.35,20.0],[29.45,13.8],[29.54,10.2],[29.64,12.2],[29.74,14.2],[29.84,16.1],[29.94,18.5],[30.04,23.2],[30.14,23.2],[30.24,23.6],[30.34,24.7],[30.44,27.1],[30.54,24.7],[30.64,22.4],[30.74,17.7],[30.84,18.5],[30.94,22.4],[31.04,23.6],[31.13,23.2],[31.23,25.9],[31.33,29.8],[31.43,30.4],[31.53,29.4],[31.59,23.6],[31.69,22.8],[31.79,26.3],[31.87,29.4],[31.97,26.3],[32.07,21.6],[32.17,21.2],[32.27,20.8],[32.37,15.3],[32.47,13.8],[32.57,10.6],[32.67,6.7],[32.77,4.7],[32.87,6.7],[32.97,7.5],[33.06,5.1],[33.16,4.4],[33.26,2.8],[33.36,2.0],[33.46,6.7],[33.56,5.9],[33.66,2.0],[33.76,1.2],[33.86,0.8],[33.96,1.2],[34.06,1.0],[34.30,-0.3],[34.41,-3.1],[34.55,-0.3],[34.69,3.6],[34.81,0.0],[34.95,-2.3],[35.09,0.8],[35.25,3.2],[35.39,-0.3],[35.51,-1.5],[35.65,-0.3],[35.81,0.2],[35.95,-0.3],[36.04,-4.7],[36.18,-5.0],[36.30,-1.9],[36.44,-1.1],[36.54,-0.3],[36.64,-4.3],[36.78,-6.2],[36.90,-3.9],[37.04,-1.9],[37.18,-1.5],[37.30,-4.7],[37.44,-5.8],[37.58,-1.1],[37.63,0.4],[37.73,-1.9],[37.87,-5.4],[37.99,-4.7],[38.09,-6.2],[38.23,-2.3],[38.33,-4.3],[38.43,-6.6],[38.53,-5.8],[38.67,-6.2],[38.79,-5.4],[38.93,-5.8],[39.07,-5.4],[39.23,-5.4],[39.32,2.4],[39.42,2.8],[39.52,-4.3],[39.62,-4.7],[39.72,-3.6],[39.82,-1.9],[39.92,-1.5],[40.02,1.2],[40.12,-4.7],[40.22,-5.4],[40.32,-4.7],[40.42,-2.3],[40.52,2.4],[40.62,-1.9],[40.72,-6.2],[40.82,-6.6],[40.92,-7.0],[41.01,-6.2],[41.11,-6.6],[41.21,-5.8],[41.31,-6.6],[41.41,-5.4],[41.51,-6.2],[41.61,-5.8],[41.71,-6.2],[41.81,-5.0],[41.91,-5.8],[42.01,-5.8],[42.11,-6.6],[42.21,-5.4],[42.31,-4.3],[42.41,-6.2],[42.51,-6.2],[42.61,-6.6],[42.70,-5.8],[42.80,-5.4],[42.90,-4.3],[43.00,-1.9],[43.10,-2.7],[43.20,-5.4],[43.30,-5.8],[43.40,-5.4],[43.50,-4.7],[43.60,-3.6],[43.70,-3.9],[43.80,-5.8],[43.90,-5.4],[44.00,-3.9],[44.10,-5.4],[44.20,-4.7],[44.30,-3.6],[44.40,-6.2],[44.50,-5.8],[44.60,-6.6],[44.69,-5.4],[44.79,-5.0],[44.89,-5.8],[44.99,-6.6],[45.09,-6.2],[45.19,-6.6],[45.29,-7.0],[45.39,-7.0],[45.59,-6.6],[45.79,-6.8],[45.99,-6.5],[46.18,-6.2],[46.38,-5.4],[46.48,-6.2],[46.58,-6.5],[46.78,-5.8],[46.98,-6.0],[47.18,-5.7],[47.38,-5.4],[47.58,-5.0],[47.77,-5.4],[47.97,-5.0],[48.17,-5.0],[48.37,-4.7],[48.53,-3.9],[48.67,-4.7],[48.87,-4.7],[49.07,-4.7],[49.27,-4.4],[49.46,-4.7],[49.66,-4.7],[49.86,-5.0],[49.96,-4.9]];

const lowTicks = [2.5, 5.0, 7.5, 10.0, 12.5, 15.0, 17.5, 20.0];
const highTicks = [20, 25, 30, 35, 40, 45, 50];
const topYTicks = [0, 10, 20, 30, 40, 50, 60];
const bottomYTicks = [-10, 0, 10, 20, 30, 40, 50, 60];

const RED = "#dc143c", BLUE = "#0000ff";
const SERIF = "'Liberation Serif', 'Times New Roman', serif";
const SANS = "'DejaVu Sans', sans-serif";

const svg = d3.select("#chart");

// titles
svg.append("text")
  .attr("x", 616).attr("y", 23)
  .attr("text-anchor", "middle")
  .style("font-family", SERIF).style("font-weight", "bold").style("font-size", "25.5px")
  .text("Magnitude spectrum of microphones with different positions");

function subtitle(y, parts) {
  const t = svg.append("text")
    .attr("x", 617).attr("y", y)
    .attr("text-anchor", "middle")
    .style("font-family", SERIF).style("font-style", "italic").style("font-size", "24px");
  t.append("tspan").text(parts[0]);
  t.append("tspan").style("font-family", SANS).style("font-style", "normal").style("font-size", "21px").text("x");
  t.append("tspan").style("font-family", SANS).style("font-style", "normal").style("font-size", "15px").attr("dy", 5).text("3");
  t.append("tspan").attr("dy", -5).text(parts[1]);
  t.append("tspan").style("font-family", SANS).style("font-style", "normal").style("font-size", "21px").text("x");
  t.append("tspan").style("font-family", SANS).style("font-style", "normal").style("font-size", "15px").attr("dy", 5).text("0");
  t.append("tspan").attr("dy", -5).text(")");
}
subtitle(67, ["(a) G.R.A.S. Microphones max amplitudes: 66.1 dB (", ") and 63.9 dB ("]);
subtitle(487, ["(b) MG Microphones max amplitudes: 63.1 dB (", ") and 58.3 dB ("]);

const panels = [
  { id: "tl", x0: 80,  y0: 77,  w: 504, h: 328, xd: [0, 20],  yd: [-3.7, 69.0],  xt: lowTicks,  yt: topYTicks,    red: grasLowX3,  blue: grasLowX0,  legend: "left",  ylx: 40 },
  { id: "tr", x0: 684, y0: 77,  w: 503, h: 328, xd: [20, 50], yd: [-3.7, 69.0],  xt: highTicks, yt: topYTicks,    red: grasHighX3, blue: grasHighX0, legend: "right", ylx: 637 },
  { id: "bl", x0: 80,  y0: 504, w: 504, h: 328, xd: [0, 20],  yd: [-10.7, 66.45], xt: lowTicks,  yt: bottomYTicks, red: mgLowX3,    blue: mgLowX0,    legend: "right", ylx: 21 },
  { id: "br", x0: 684, y0: 504, w: 503, h: 328, xd: [20, 50], yd: [-10.7, 66.45], xt: highTicks, yt: bottomYTicks, red: mgHighX3,   blue: mgHighX0,   legend: "right", ylx: 637 }
];

panels.forEach(drawPanel);

function drawPanel(p) {
  const g = svg.append("g").attr("transform", "translate(" + p.x0 + "," + p.y0 + ")");
  const x = d3.scaleLinear().domain(p.xd).range([0, p.w]);
  const y = d3.scaleLinear().domain(p.yd).range([p.h, 0]);

  svg.append("clipPath").attr("id", "clip-" + p.id)
    .append("rect").attr("width", p.w).attr("height", p.h);

  const line = d3.line().x(d => x(d[0])).y(d => y(d[1]));
  const plot = g.append("g").attr("clip-path", "url(#clip-" + p.id + ")");
  plot.append("path").datum(p.red)
    .attr("fill", "none").attr("stroke", RED).attr("stroke-width", 1.5)
    .attr("stroke-linejoin", "round").attr("d", line);
  plot.append("path").datum(p.blue)
    .attr("fill", "none").attr("stroke", BLUE).attr("stroke-width", 1.5)
    .attr("stroke-linejoin", "round").attr("d", line);

  // axes
  const xa = g.append("g").attr("transform", "translate(0," + p.h + ")")
    .call(d3.axisBottom(x).tickValues(p.xt).tickFormat(d3.format(".1f")).tickSize(5).tickPadding(4).tickSizeOuter(0));
  const ya = g.append("g")
    .call(d3.axisLeft(y).tickValues(p.yt).tickFormat(d => d < 0 ? "\u2212" + Math.abs(d) : d).tickSize(5).tickPadding(4).tickSizeOuter(0));
  [xa, ya].forEach(a => {
    a.select(".domain").remove();
    a.selectAll("line").attr("stroke", "#555");
    a.selectAll("text").style("font-family", SANS).style("font-size", "16px").attr("fill", "#1a1a1a");
  });

  g.append("rect").attr("width", p.w).attr("height", p.h)
    .attr("fill", "none").attr("stroke", "#555").attr("stroke-width", 1);

  // axis labels
  g.append("text")
    .attr("x", p.w / 2).attr("y", p.h + 42)
    .attr("text-anchor", "middle")
    .style("font-family", SERIF).style("font-size", "22px")
    .text("Frequency (kHz)");
  svg.append("text")
    .attr("transform", "translate(" + (p.ylx + 7) + "," + (p.y0 + p.h / 2) + ") rotate(-90)")
    .attr("text-anchor", "middle")
    .style("font-family", SERIF).style("font-size", "22px")
    .text("SPL (dB)");

  // legend
  const lw = 99, lh = 66;
  const lx = p.legend === "left" ? 10 : p.w - 10 - lw;
  const lg = g.append("g").attr("transform", "translate(" + lx + ",9)");
  lg.append("rect").attr("width", lw).attr("height", lh).attr("rx", 3)
    .attr("fill", "#fff").attr("fill-opacity", 0.8).attr("stroke", "#ccc");
  [[RED, "3", 16, 70], [BLUE, "0", 46, 63]].forEach(([c, sub, cy, tx]) => {
    lg.append("line").attr("x1", 7).attr("x2", 48).attr("y1", cy).attr("y2", cy)
      .attr("stroke", c).attr("stroke-width", 1.5);
    const t = lg.append("text").attr("x", tx).attr("y", cy + 5)
      .style("font-family", SANS).style("font-size", "19px");
    t.append("tspan").style("font-style", "italic").text("x");
    t.append("tspan").style("font-size", "14px").attr("dy", 4).text(sub);
  });
}
</script>
</body>
</html>
